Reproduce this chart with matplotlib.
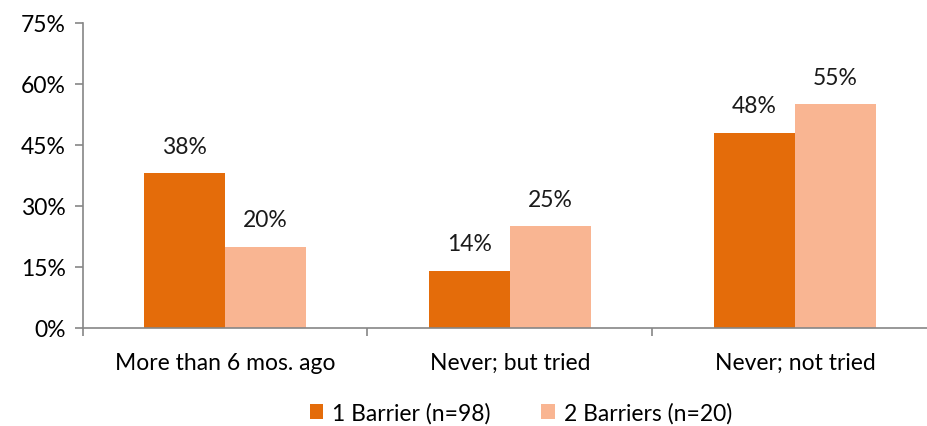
import matplotlib

matplotlib.use("Agg")
import matplotlib.pyplot as plt
import numpy as np

categories = ["More than 6 mos. ago", "Never; but tried", "Never; not tried"]
series_names = ["1 Barrier (n=98)", "2 Barriers (n=20)"]
one_barrier = [38, 14, 48]
two_barriers = [20, 25, 55]
yticks = [0, 15, 30, 45, 60, 75]

DARK = "#E46C0A"
LIGHT = "#F9B592"
AXIS = "#868686"
FS = 16.5

plt.rcParams["font.family"] = ["Lato", "DejaVu Sans"]

fig = plt.figure(figsize=(9.27, 4.27), dpi=100)
ax = fig.add_axes([82.5 / 927, (427 - 329) / 427, 855 / 927, 305 / 427])

x = np.arange(len(categories))
width = 0.284
bars1 = ax.bar(x - width / 2, one_barrier, width, color=DARK, label=series_names[0])
bars2 = ax.bar(x + width / 2, two_barriers, width, color=LIGHT, label=series_names[1])

for bars, vals in ((bars1, one_barrier), (bars2, two_barriers)):
    for b, v in zip(bars, vals):
        ax.annotate(f"{v}%", (b.get_x() + b.get_width() / 2, v),
                    xytext=(0, 12), textcoords="offset points",
                    ha="center", va="bottom", fontsize=FS, color="#1a1a1a")

ax.set_xlim(-0.5, len(categories) - 0.5)
ax.set_ylim(0, 75)
ax.set_yticks(yticks)
ax.set_yticklabels([f"{t}%" for t in yticks], fontsize=FS)

ax.set_xticks(x)
ax.set_xticklabels(categories, fontsize=FS)
ax.tick_params(axis="x", length=0, pad=17)
ax.set_xticks(np.arange(len(categories) + 1) - 0.5, minor=True)
ax.tick_params(axis="x", which="minor", length=6, color=AXIS, width=1.2)
ax.tick_params(axis="y", length=6, color=AXIS, width=1.2, pad=6)

for side in ("top", "right"):
    ax.spines[side].set_visible(False)
for side in ("left", "bottom"):
    ax.spines[side].set_color(AXIS)
    ax.spines[side].set_linewidth(1.2)

fig.legend(loc="center", bbox_to_anchor=(521 / 927, 1 - 414 / 427), ncol=2,
           frameon=False, fontsize=FS, handlelength=0.6, handleheight=0.6,
           handletextpad=0.4, columnspacing=2.2)

fig.savefig("out.png", dpi=100)
